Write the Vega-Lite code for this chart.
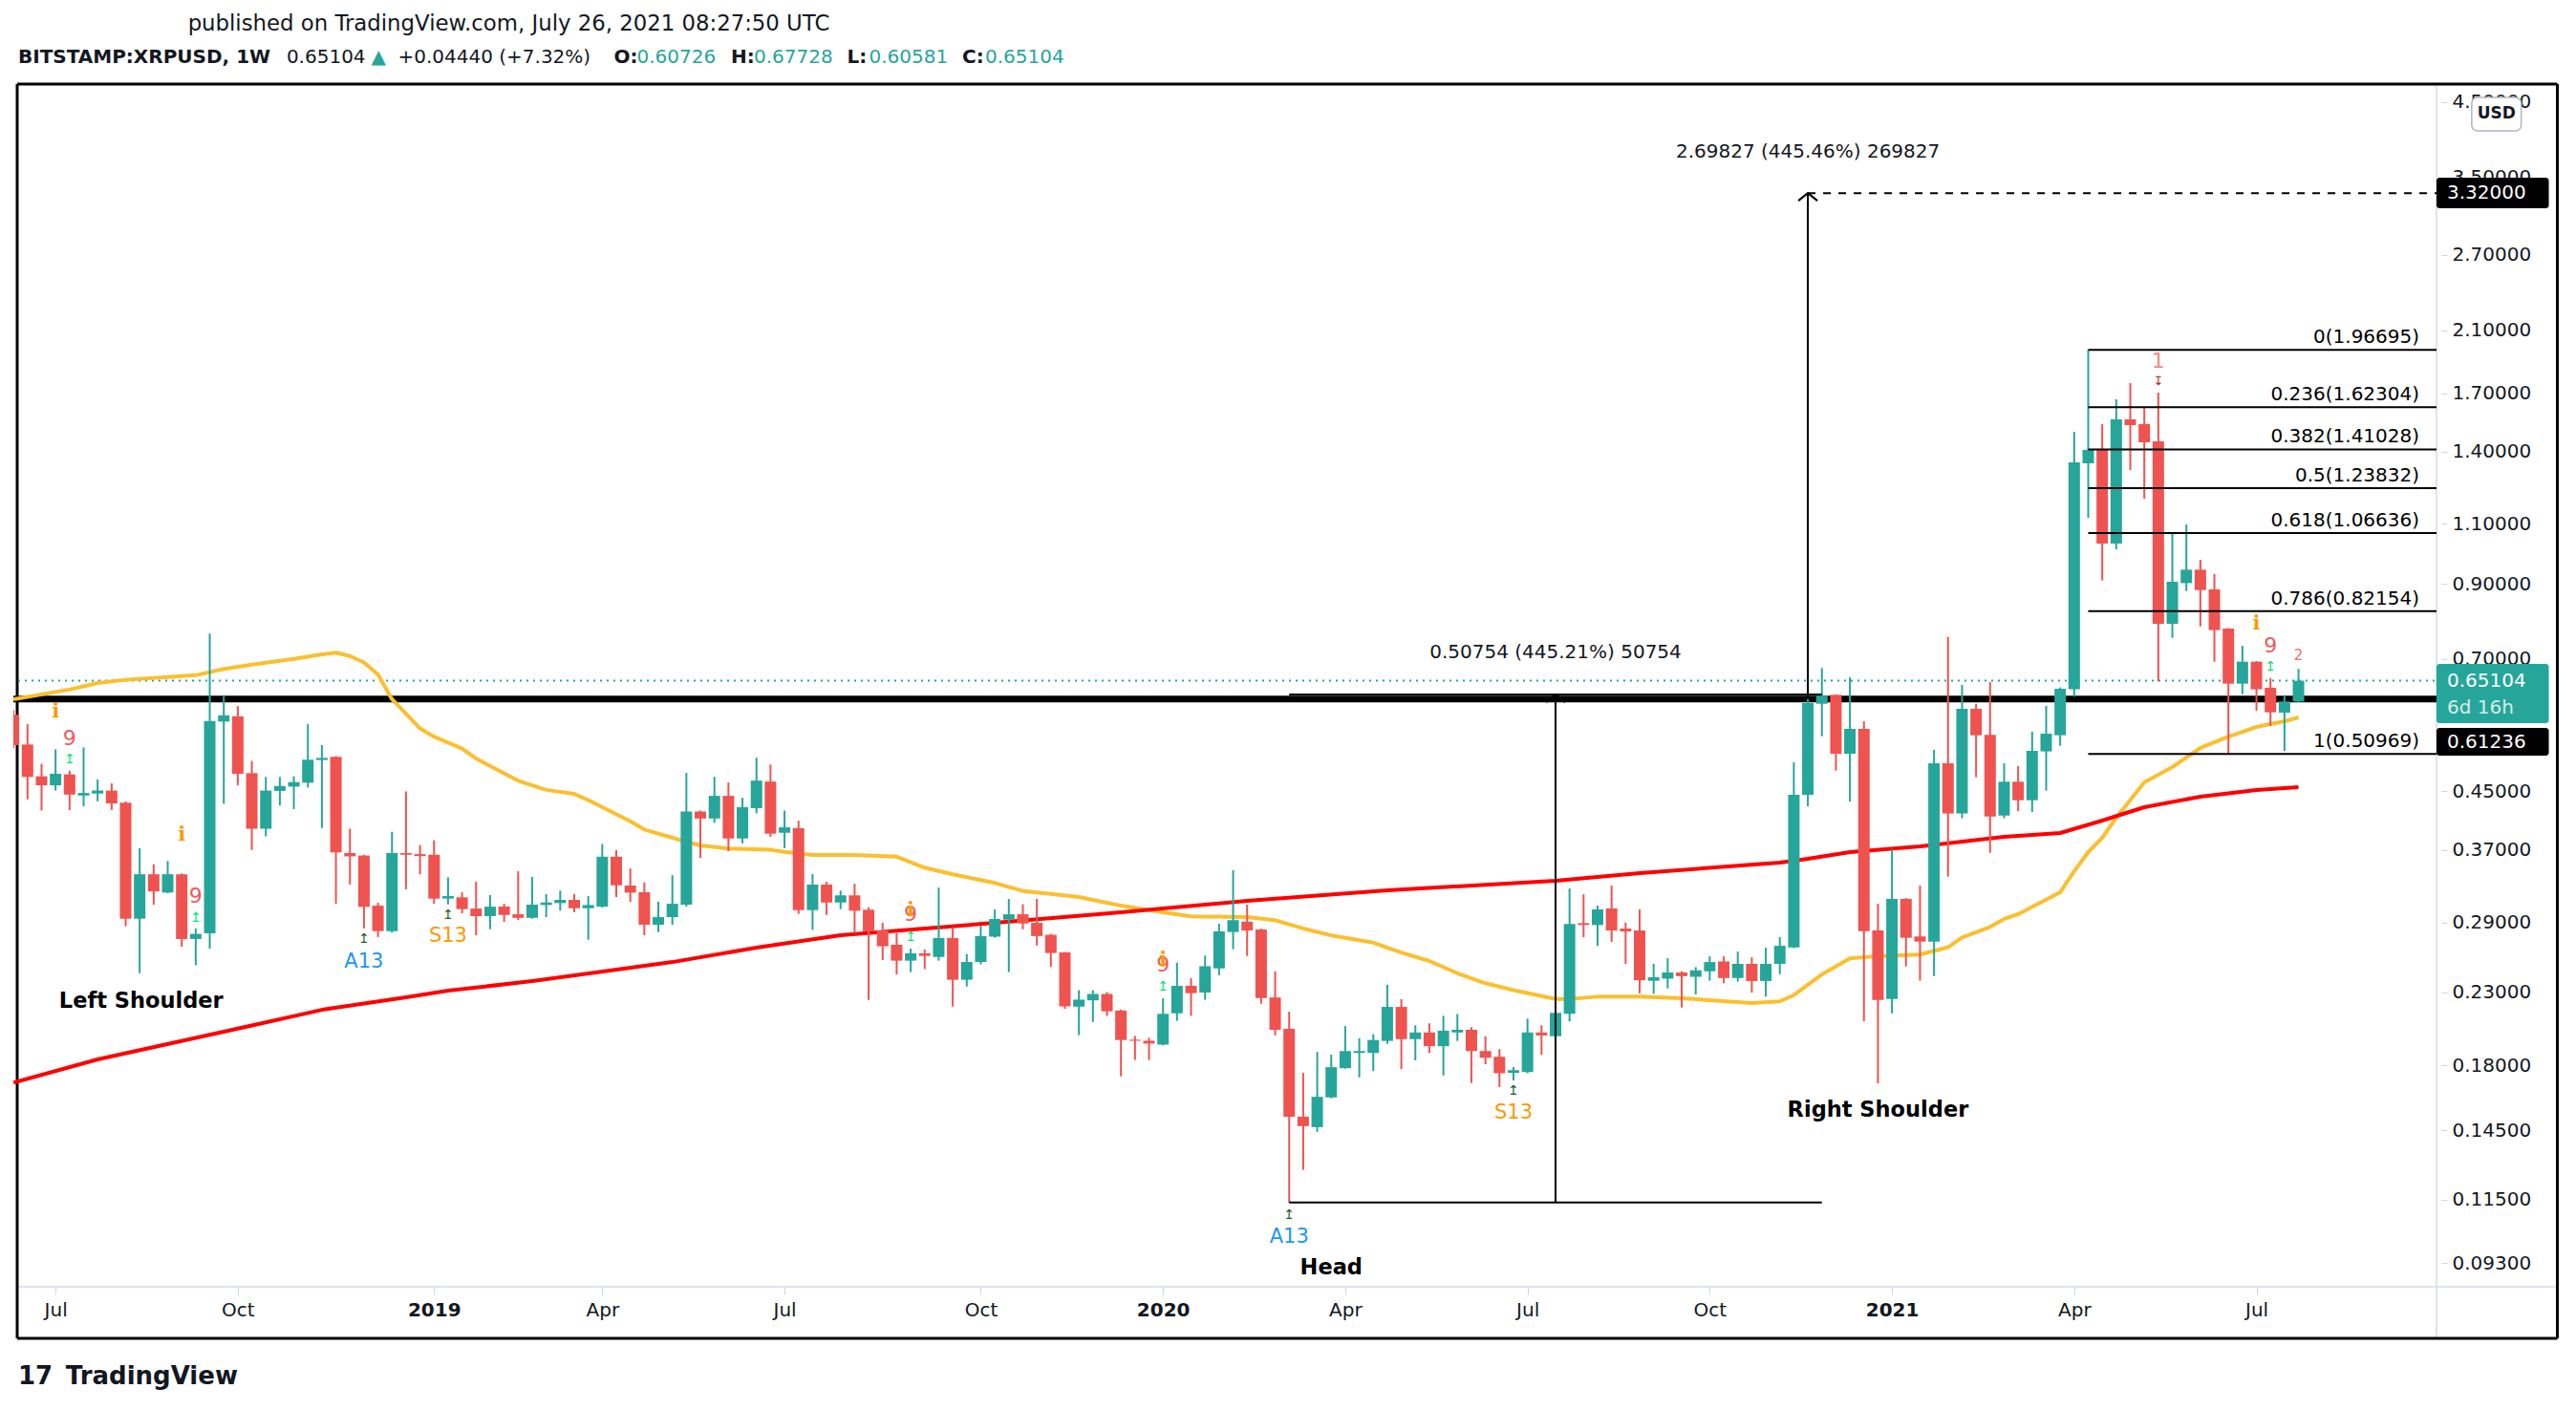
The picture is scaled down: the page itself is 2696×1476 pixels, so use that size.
{
"$schema":"https://vega.github.io/schema/vega-lite/v6.json",
"width":2541,"height":1259,
"autosize":{"type":"none"},
"padding":{"left":14,"top":88,"right":141,"bottom":129},
"background":"#ffffff",
"view":{"stroke":null},
"config":{"font":"DejaVu Sans"},
"datasets":{
"frame":[{"x0":1528834852000,"x1":1638425957000,"y0":4.779,"y1":4.779},{"x0":1528834852000,"x1":1638425957000,"y0":0.07232,"y1":0.07232},{"x0":1528834852000,"x1":1528834852000,"y0":4.779,"y1":0.07232},{"x0":1638425957000,"x1":1638425957000,"y0":4.779,"y1":0.07232}],
"sep":[{"x0":1633211243000,"x1":1633211243000,"y0":4.779,"y1":0.07232},{"x0":1528875913000,"x1":1638425957000,"y0":0.08594,"y1":0.08594}],
"support":[{"p":0.61236}],
"last":[{"p":0.65104}],
"ma50":[{"d":"2018-06-11","v":0.612},{"d":"2018-07-09","v":0.632},{"d":"2018-07-23","v":0.646},{"d":"2018-08-06","v":0.653},{"d":"2018-08-27","v":0.659},{"d":"2018-09-10","v":0.663},{"d":"2018-09-24","v":0.677},{"d":"2018-10-08","v":0.687},{"d":"2018-10-29","v":0.7},{"d":"2018-11-12","v":0.711},{"d":"2018-11-19","v":0.715},{"d":"2018-11-26","v":0.707},{"d":"2018-12-03","v":0.692},{"d":"2018-12-10","v":0.665},{"d":"2018-12-17","v":0.612},{"d":"2018-12-24","v":0.583},{"d":"2018-12-31","v":0.555},{"d":"2019-01-07","v":0.54},{"d":"2019-01-21","v":0.519},{"d":"2019-01-28","v":0.502},{"d":"2019-02-18","v":0.466},{"d":"2019-03-04","v":0.452},{"d":"2019-03-18","v":0.446},{"d":"2019-03-25","v":0.437},{"d":"2019-04-15","v":0.407},{"d":"2019-04-22","v":0.396},{"d":"2019-05-13","v":0.38},{"d":"2019-05-20","v":0.3755},{"d":"2019-06-03","v":0.3715},{"d":"2019-06-24","v":0.37},{"d":"2019-07-01","v":0.3675},{"d":"2019-07-15","v":0.3636},{"d":"2019-08-05","v":0.3636},{"d":"2019-08-26","v":0.3616},{"d":"2019-09-09","v":0.3486},{"d":"2019-09-23","v":0.341},{"d":"2019-10-14","v":0.3312},{"d":"2019-10-28","v":0.3225},{"d":"2019-11-11","v":0.3194},{"d":"2019-11-25","v":0.316},{"d":"2019-12-09","v":0.31},{"d":"2019-12-16","v":0.307},{"d":"2020-01-06","v":0.3003},{"d":"2020-01-20","v":0.2962},{"d":"2020-02-17","v":0.2955},{"d":"2020-03-02","v":0.2924},{"d":"2020-03-16","v":0.2845},{"d":"2020-03-30","v":0.278},{"d":"2020-04-20","v":0.2713},{"d":"2020-05-04","v":0.2625},{"d":"2020-05-18","v":0.2552},{"d":"2020-06-01","v":0.245},{"d":"2020-06-15","v":0.2369},{"d":"2020-06-29","v":0.2315},{"d":"2020-07-20","v":0.2248},{"d":"2020-07-27","v":0.2248},{"d":"2020-08-10","v":0.2265},{"d":"2020-08-31","v":0.2265},{"d":"2020-09-21","v":0.2253},{"d":"2020-10-26","v":0.2218},{"d":"2020-11-09","v":0.223},{"d":"2020-11-16","v":0.2277},{"d":"2020-11-30","v":0.244},{"d":"2020-12-14","v":0.2575},{"d":"2020-12-28","v":0.2594},{"d":"2021-01-18","v":0.2608},{"d":"2021-02-01","v":0.2672},{"d":"2021-02-08","v":0.276},{"d":"2021-02-22","v":0.286},{"d":"2021-03-01","v":0.2937},{"d":"2021-03-08","v":0.2984},{"d":"2021-03-29","v":0.3211},{"d":"2021-04-05","v":0.3445},{"d":"2021-04-12","v":0.3672},{"d":"2021-04-19","v":0.3852},{"d":"2021-04-26","v":0.412},{"d":"2021-05-10","v":0.4635},{"d":"2021-05-24","v":0.4878},{"d":"2021-06-07","v":0.52},{"d":"2021-06-21","v":0.54},{"d":"2021-07-05","v":0.5578},{"d":"2021-07-19","v":0.5686},{"d":"2021-07-26","v":0.5759}],
"ma200":[{"d":"2018-06-11","v":0.17},{"d":"2018-07-23","v":0.1837},{"d":"2018-09-24","v":0.2015},{"d":"2018-11-12","v":0.2168},{"d":"2018-12-24","v":0.226},{"d":"2019-01-14","v":0.2311},{"d":"2019-02-25","v":0.2386},{"d":"2019-05-06","v":0.2543},{"d":"2019-06-17","v":0.2668},{"d":"2019-07-29","v":0.2781},{"d":"2019-10-14","v":0.2899},{"d":"2019-12-16","v":0.3003},{"d":"2020-02-17","v":0.312},{"d":"2020-04-27","v":0.3232},{"d":"2020-07-20","v":0.3336},{"d":"2020-08-31","v":0.3423},{"d":"2020-11-09","v":0.3545},{"d":"2020-11-23","v":0.359},{"d":"2020-12-14","v":0.3672},{"d":"2021-01-18","v":0.3743},{"d":"2021-03-01","v":0.3864},{"d":"2021-03-29","v":0.3914},{"d":"2021-04-19","v":0.408},{"d":"2021-05-10","v":0.4266},{"d":"2021-06-07","v":0.4419},{"d":"2021-07-05","v":0.4518},{"d":"2021-07-26","v":0.4562}],
"candles":[
{"d":"2018-06-11","o":0.581,"h":0.59,"l":0.52,"c":0.525},
{"d":"2018-06-18","o":0.526,"h":0.563,"l":0.438,"c":0.472},
{"d":"2018-06-25","o":0.473,"h":0.493,"l":0.422,"c":0.459},
{"d":"2018-07-02","o":0.459,"h":0.5175,"l":0.451,"c":0.477},
{"d":"2018-07-09","o":0.476,"h":0.482,"l":0.4225,"c":0.445},
{"d":"2018-07-16","o":0.4436,"h":0.521,"l":0.428,"c":0.4474},
{"d":"2018-07-23","o":0.4465,"h":0.468,"l":0.435,"c":0.4512},
{"d":"2018-07-30","o":0.451,"h":0.462,"l":0.4225,"c":0.432},
{"d":"2018-08-06","o":0.433,"h":0.435,"l":0.2866,"c":0.294},
{"d":"2018-08-13","o":0.294,"h":0.372,"l":0.245,"c":0.341},
{"d":"2018-08-20","o":0.341,"h":0.3526,"l":0.308,"c":0.322},
{"d":"2018-08-27","o":0.3208,"h":0.3564,"l":0.32,"c":0.341},
{"d":"2018-09-03","o":0.341,"h":0.342,"l":0.2676,"c":0.2747},
{"d":"2018-09-10","o":0.2747,"h":0.2845,"l":0.2517,"c":0.2794},
{"d":"2018-09-17","o":0.28,"h":0.762,"l":0.266,"c":0.569},
{"d":"2018-09-24","o":0.568,"h":0.619,"l":0.4316,"c":0.58},
{"d":"2018-10-01","o":0.578,"h":0.598,"l":0.459,"c":0.477},
{"d":"2018-10-08","o":0.478,"h":0.498,"l":0.3698,"c":0.397},
{"d":"2018-10-15","o":0.397,"h":0.472,"l":0.387,"c":0.451},
{"d":"2018-10-22","o":0.4505,"h":0.472,"l":0.429,"c":0.458},
{"d":"2018-10-29","o":0.457,"h":0.473,"l":0.424,"c":0.464},
{"d":"2018-11-05","o":0.463,"h":0.563,"l":0.4555,"c":0.5},
{"d":"2018-11-12","o":0.4995,"h":0.525,"l":0.398,"c":0.503},
{"d":"2018-11-19","o":0.505,"h":0.506,"l":0.309,"c":0.367},
{"d":"2018-11-26","o":0.366,"h":0.397,"l":0.3295,"c":0.362},
{"d":"2018-12-03","o":0.363,"h":0.3638,"l":0.2845,"c":0.3058},
{"d":"2018-12-10","o":0.307,"h":0.31,"l":0.2765,"c":0.282},
{"d":"2018-12-17","o":0.282,"h":0.393,"l":0.2806,"c":0.366},
{"d":"2018-12-24","o":0.366,"h":0.4497,"l":0.3243,"c":0.364},
{"d":"2018-12-31","o":0.3647,"h":0.376,"l":0.341,"c":0.3623},
{"d":"2019-01-07","o":0.364,"h":0.382,"l":0.309,"c":0.3143},
{"d":"2019-01-14","o":0.3144,"h":0.3375,"l":0.3084,"c":0.317},
{"d":"2019-01-21","o":0.3157,"h":0.3211,"l":0.2993,"c":0.3035},
{"d":"2019-01-28","o":0.3041,"h":0.3325,"l":0.2781,"c":0.2965},
{"d":"2019-02-04","o":0.2965,"h":0.318,"l":0.2838,"c":0.306},
{"d":"2019-02-11","o":0.306,"h":0.309,"l":0.2908,"c":0.2977},
{"d":"2019-02-18","o":0.2983,"h":0.3444,"l":0.2925,"c":0.2948},
{"d":"2019-02-25","o":0.2948,"h":0.3379,"l":0.2939,"c":0.3081},
{"d":"2019-03-04","o":0.3077,"h":0.3191,"l":0.2955,"c":0.3103},
{"d":"2019-03-11","o":0.3097,"h":0.323,"l":0.3019,"c":0.313},
{"d":"2019-03-18","o":0.313,"h":0.3191,"l":0.3003,"c":0.3044},
{"d":"2019-03-25","o":0.3044,"h":0.317,"l":0.274,"c":0.3077},
{"d":"2019-04-01","o":0.306,"h":0.3772,"l":0.3051,"c":0.3616},
{"d":"2019-04-08","o":0.3616,"h":0.3695,"l":0.316,"c":0.3287},
{"d":"2019-04-15","o":0.3284,"h":0.3477,"l":0.311,"c":0.3207},
{"d":"2019-04-22","o":0.3211,"h":0.3318,"l":0.2781,"c":0.2881},
{"d":"2019-04-29","o":0.2881,"h":0.311,"l":0.2811,"c":0.2955},
{"d":"2019-05-06","o":0.2955,"h":0.3399,"l":0.2881,"c":0.309},
{"d":"2019-05-13","o":0.3081,"h":0.4785,"l":0.306,"c":0.4205},
{"d":"2019-05-20","o":0.4205,"h":0.422,"l":0.36,"c":0.4108},
{"d":"2019-05-27","o":0.4108,"h":0.4724,"l":0.4049,"c":0.4431},
{"d":"2019-06-03","o":0.4431,"h":0.4634,"l":0.3683,"c":0.3843},
{"d":"2019-06-10","o":0.3843,"h":0.4403,"l":0.3781,"c":0.4266},
{"d":"2019-06-17","o":0.4252,"h":0.5033,"l":0.418,"c":0.4663},
{"d":"2019-06-24","o":0.4648,"h":0.4921,"l":0.3864,"c":0.3905},
{"d":"2019-07-01","o":0.3917,"h":0.4219,"l":0.3721,"c":0.3989},
{"d":"2019-07-08","o":0.3977,"h":0.4078,"l":0.2987,"c":0.3025},
{"d":"2019-07-15","o":0.3025,"h":0.3412,"l":0.2832,"c":0.3294},
{"d":"2019-07-22","o":0.3294,"h":0.3325,"l":0.2977,"c":0.3103},
{"d":"2019-07-29","o":0.3103,"h":0.3229,"l":0.3035,"c":0.3178},
{"d":"2019-08-05","o":0.3178,"h":0.3304,"l":0.2803,"c":0.3019},
{"d":"2019-08-12","o":0.3029,"h":0.3054,"l":0.2241,"c":0.2818},
{"d":"2019-08-19","o":0.2827,"h":0.2899,"l":0.256,"c":0.2681},
{"d":"2019-08-26","o":0.2694,"h":0.2803,"l":0.244,"c":0.2555},
{"d":"2019-09-02","o":0.2555,"h":0.266,"l":0.2459,"c":0.2618},
{"d":"2019-09-09","o":0.2618,"h":0.2651,"l":0.2484,"c":0.2596},
{"d":"2019-09-16","o":0.2587,"h":0.3262,"l":0.2555,"c":0.2756},
{"d":"2019-09-23","o":0.2756,"h":0.2856,"l":0.2191,"c":0.2397},
{"d":"2019-09-30","o":0.2397,"h":0.2612,"l":0.2344,"c":0.2544},
{"d":"2019-10-07","o":0.2544,"h":0.2871,"l":0.2523,"c":0.2774},
{"d":"2019-10-14","o":0.2768,"h":0.3031,"l":0.2759,"c":0.2937},
{"d":"2019-10-21","o":0.293,"h":0.314,"l":0.2459,"c":0.2983},
{"d":"2019-10-28","o":0.2983,"h":0.3085,"l":0.2838,"c":0.2893},
{"d":"2019-11-04","o":0.2899,"h":0.314,"l":0.2687,"c":0.2774},
{"d":"2019-11-11","o":0.2785,"h":0.2794,"l":0.2502,"c":0.2621},
{"d":"2019-11-18","o":0.2627,"h":0.263,"l":0.2175,"c":0.2193},
{"d":"2019-11-25","o":0.2191,"h":0.2315,"l":0.1992,"c":0.2243},
{"d":"2019-12-02","o":0.2238,"h":0.2315,"l":0.2082,"c":0.2286},
{"d":"2019-12-09","o":0.2286,"h":0.23,"l":0.2125,"c":0.2157},
{"d":"2019-12-16","o":0.2163,"h":0.217,"l":0.1736,"c":0.196},
{"d":"2019-12-23","o":0.1962,"h":0.1987,"l":0.1834,"c":0.1955},
{"d":"2019-12-30","o":0.1955,"h":0.1975,"l":0.1834,"c":0.1937},
{"d":"2020-01-06","o":0.193,"h":0.2253,"l":0.1925,"c":0.2139},
{"d":"2020-01-13","o":0.2143,"h":0.2538,"l":0.2089,"c":0.2349},
{"d":"2020-01-20","o":0.2349,"h":0.2409,"l":0.2125,"c":0.2292},
{"d":"2020-01-27","o":0.2297,"h":0.2599,"l":0.2241,"c":0.2508},
{"d":"2020-02-03","o":0.249,"h":0.289,"l":0.2434,"c":0.2818},
{"d":"2020-02-10","o":0.2812,"h":0.3456,"l":0.2654,"c":0.2925},
{"d":"2020-02-17","o":0.291,"h":0.3081,"l":0.2595,"c":0.2826},
{"d":"2020-02-24","o":0.2835,"h":0.2844,"l":0.2212,"c":0.2255},
{"d":"2020-03-02","o":0.2259,"h":0.2464,"l":0.199,"c":0.2028},
{"d":"2020-03-09","o":0.2034,"h":0.2154,"l":0.1138,"c":0.1517},
{"d":"2020-03-16","o":0.1517,"h":0.1756,"l":0.127,"c":0.147},
{"d":"2020-03-23","o":0.1465,"h":0.1883,"l":0.1442,"c":0.1621},
{"d":"2020-03-30","o":0.1618,"h":0.1866,"l":0.1613,"c":0.179},
{"d":"2020-04-06","o":0.1784,"h":0.2053,"l":0.1781,"c":0.1889},
{"d":"2020-04-13","o":0.1877,"h":0.1972,"l":0.173,"c":0.1889},
{"d":"2020-04-20","o":0.1877,"h":0.1998,"l":0.1768,"c":0.196},
{"d":"2020-04-27","o":0.1954,"h":0.2357,"l":0.1935,"c":0.2189},
{"d":"2020-05-04","o":0.2189,"h":0.2246,"l":0.1778,"c":0.1966},
{"d":"2020-05-11","o":0.1966,"h":0.2059,"l":0.1831,"c":0.201},
{"d":"2020-05-18","o":0.201,"h":0.2072,"l":0.1877,"c":0.192},
{"d":"2020-05-25","o":0.192,"h":0.2125,"l":0.1741,"c":0.2022},
{"d":"2020-06-01","o":0.201,"h":0.2138,"l":0.1954,"c":0.2028},
{"d":"2020-06-08","o":0.2028,"h":0.2046,"l":0.1698,"c":0.1889},
{"d":"2020-06-15","o":0.1889,"h":0.1985,"l":0.1807,"c":0.1847},
{"d":"2020-06-22","o":0.1853,"h":0.1901,"l":0.1675,"c":0.1754},
{"d":"2020-06-29","o":0.1756,"h":0.179,"l":0.1713,"c":0.1772},
{"d":"2020-07-06","o":0.1761,"h":0.2105,"l":0.1754,"c":0.201},
{"d":"2020-07-13","o":0.201,"h":0.2059,"l":0.1866,"c":0.199},
{"d":"2020-07-20","o":0.1985,"h":0.2246,"l":0.1907,"c":0.2146},
{"d":"2020-07-27","o":0.214,"h":0.3252,"l":0.2086,"c":0.2887},
{"d":"2020-08-03","o":0.2896,"h":0.3189,"l":0.2763,"c":0.2878},
{"d":"2020-08-10","o":0.2878,"h":0.3071,"l":0.2684,"c":0.3032},
{"d":"2020-08-17","o":0.3042,"h":0.3283,"l":0.272,"c":0.2826},
{"d":"2020-08-24","o":0.2844,"h":0.2901,"l":0.2528,"c":0.2817},
{"d":"2020-08-31","o":0.2826,"h":0.3032,"l":0.2291,"c":0.2393},
{"d":"2020-09-07","o":0.2389,"h":0.2528,"l":0.2288,"c":0.2417},
{"d":"2020-09-14","o":0.2406,"h":0.2576,"l":0.2328,"c":0.2456},
{"d":"2020-09-21","o":0.2456,"h":0.2466,"l":0.2185,"c":0.2426},
{"d":"2020-09-28","o":0.2421,"h":0.25,"l":0.2282,"c":0.2474},
{"d":"2020-10-05","o":0.2466,"h":0.2592,"l":0.2389,"c":0.2543},
{"d":"2020-10-12","o":0.2548,"h":0.2592,"l":0.2369,"c":0.2411},
{"d":"2020-10-19","o":0.2411,"h":0.2633,"l":0.2382,"c":0.2528},
{"d":"2020-10-26","o":0.2528,"h":0.2584,"l":0.2296,"c":0.2387},
{"d":"2020-11-02","o":0.2387,"h":0.2668,"l":0.2266,"c":0.2528},
{"d":"2020-11-09","o":0.2528,"h":0.2764,"l":0.2442,"c":0.2685},
{"d":"2020-11-16","o":0.2671,"h":0.4956,"l":0.2664,"c":0.4447},
{"d":"2020-11-23","o":0.4447,"h":0.7865,"l":0.428,"c":0.6041},
{"d":"2020-11-30","o":0.6028,"h":0.6791,"l":0.5408,"c":0.6191},
{"d":"2020-12-07","o":0.621,"h":0.622,"l":0.4821,"c":0.5101},
{"d":"2020-12-14","o":0.5101,"h":0.6585,"l":0.4348,"c":0.5542},
{"d":"2020-12-21","o":0.5542,"h":0.5686,"l":0.2087,"c":0.282},
{"d":"2020-12-28","o":0.2826,"h":0.3091,"l":0.1696,"c":0.2241},
{"d":"2021-01-04","o":0.2248,"h":0.3707,"l":0.2143,"c":0.314},
{"d":"2021-01-11","o":0.314,"h":0.315,"l":0.2506,"c":0.2758},
{"d":"2021-01-18","o":0.277,"h":0.3284,"l":0.2389,"c":0.2723},
{"d":"2021-01-25","o":0.2723,"h":0.5166,"l":0.2427,"c":0.4941},
{"d":"2021-02-01","o":0.4941,"h":0.7537,"l":0.3383,"c":0.4177},
{"d":"2021-02-08","o":0.4177,"h":0.6419,"l":0.4112,"c":0.5926},
{"d":"2021-02-15","o":0.5926,"h":0.6028,"l":0.4715,"c":0.5426},
{"d":"2021-02-22","o":0.5434,"h":0.648,"l":0.3664,"c":0.4136},
{"d":"2021-03-01","o":0.4149,"h":0.4941,"l":0.4112,"c":0.4645},
{"d":"2021-03-08","o":0.4645,"h":0.4894,"l":0.4212,"c":0.4367},
{"d":"2021-03-15","o":0.4367,"h":0.549,"l":0.4199,"c":0.515},
{"d":"2021-03-22","o":0.5141,"h":0.5984,"l":0.4509,"c":0.5454},
{"d":"2021-03-29","o":0.5426,"h":0.6366,"l":0.5239,"c":0.6337},
{"d":"2021-04-05","o":0.6325,"h":1.4957,"l":0.6171,"c":1.3503},
{"d":"2021-04-12","o":1.346,"h":1.96695,"l":1.1222,"c":1.4077},
{"d":"2021-04-19","o":1.4077,"h":1.5342,"l":0.9101,"c":1.0296},
{"d":"2021-04-26","o":1.0296,"h":1.667,"l":1.0099,"c":1.5591},
{"d":"2021-05-03","o":1.5591,"h":1.7601,"l":1.3163,"c":1.5293},
{"d":"2021-05-10","o":1.5342,"h":1.6251,"l":1.1961,"c":1.444},
{"d":"2021-05-17","o":1.4485,"h":1.7049,"l":0.6494,"c":0.7874},
{"d":"2021-05-24","o":0.7874,"h":1.0698,"l":0.7514,"c":0.9062},
{"d":"2021-05-31","o":0.902,"h":1.0974,"l":0.8786,"c":0.9434},
{"d":"2021-06-07","o":0.9434,"h":0.9751,"l":0.7807,"c":0.8814},
{"d":"2021-06-14","o":0.8833,"h":0.9295,"l":0.6937,"c":0.7709},
{"d":"2021-06-21","o":0.7749,"h":0.776,"l":0.50969,"c":0.6447},
{"d":"2021-06-28","o":0.6447,"h":0.7315,"l":0.6225,"c":0.6937},
{"d":"2021-07-05","o":0.6937,"h":0.695,"l":0.5889,"c":0.6325},
{"d":"2021-07-12","o":0.6359,"h":0.6565,"l":0.5596,"c":0.5858},
{"d":"2021-07-19","o":0.585,"h":0.6191,"l":0.515,"c":0.6073},
{"d":"2021-07-26","o":0.60726,"h":0.67728,"l":0.60581,"c":0.65104}
],
"fib":[{"p":1.96695,"t":"0(1.96695)","d0":"2021-04-12","d1":1633211243000,"dl":1632472150000},{"p":1.62304,"t":"0.236(1.62304)","d0":"2021-04-12","d1":1633211243000,"dl":1632472150000},{"p":1.41028,"t":"0.382(1.41028)","d0":"2021-04-12","d1":1633211243000,"dl":1632472150000},{"p":1.23832,"t":"0.5(1.23832)","d0":"2021-04-12","d1":1633211243000,"dl":1632472150000},{"p":1.06636,"t":"0.618(1.06636)","d0":"2021-04-12","d1":1633211243000,"dl":1632472150000},{"p":0.82154,"t":"0.786(0.82154)","d0":"2021-04-12","d1":1633211243000,"dl":1632472150000},{"p":0.50969,"t":"1(0.50969)","d0":"2021-04-12","d1":1633211243000,"dl":1632472150000}],
"segs":[{"d0":"2020-07-20","d1":"2020-07-20","p0":0.1139,"p1":0.6215},{"d0":"2020-03-09","d1":"2020-11-30","p0":0.1139,"p1":0.1139},{"d0":"2020-03-09","d1":"2020-11-30","p0":0.6215,"p1":0.6215},{"d0":"2020-11-23","d1":"2020-11-23","p0":0.6124,"p1":3.32}],
"dash":[{"d0":"2020-11-23","d1":1633211243000,"p":3.32}],
"chev":[{"d":"2020-07-20","p":0.6215},{"d":"2020-11-23","p":3.32}],
"meas":[{"d":"2020-07-20","p":0.7155,"t":"0.50754 (445.21%) 50754"},{"d":"2020-11-23","p":3.816,"t":"2.69827 (445.46%) 269827"}],
"td":[
{"d":"2018-07-09","p":0.5363,"t":"9","k":"nine"},{"d":"2018-09-10","p":0.3173,"t":"9","k":"nine"},{"d":"2019-09-02","p":0.2987,"t":"9","k":"nine"},{"d":"2020-01-06","p":0.2519,"t":"9","k":"nine"},{"d":"2021-07-12","p":0.7316,"t":"9","k":"nine"},
{"d":"2018-07-02","p":0.587,"t":"i","k":"info"},{"d":"2018-09-03","p":0.3885,"t":"i","k":"info"},{"d":"2019-09-02","p":0.302,"t":"i","k":"info"},{"d":"2020-01-06","p":0.256,"t":"i","k":"info"},{"d":"2021-07-05","p":0.7881,"t":"i","k":"info"},
{"d":"2018-07-09","p":0.4999,"t":"↥","k":"up"},{"d":"2018-09-10","p":0.2949,"t":"↥","k":"up"},{"d":"2019-09-02","p":0.2764,"t":"↥","k":"up"},{"d":"2020-01-06","p":0.2339,"t":"↥","k":"up"},{"d":"2021-07-12","p":0.6813,"t":"↥","k":"up"},
{"d":"2018-12-03","p":0.2744,"t":"↥","k":"dark"},{"d":"2019-01-14","p":0.2972,"t":"↥","k":"dark"},{"d":"2020-03-09","p":0.1093,"t":"↥","k":"dark"},{"d":"2020-06-29","p":0.1652,"t":"↥","k":"dark"},
{"d":"2018-12-03","p":0.2546,"t":"A13","k":"a13"},{"d":"2020-03-09","p":0.1015,"t":"A13","k":"a13"},
{"d":"2019-01-14","p":0.2772,"t":"S13","k":"s13"},{"d":"2020-06-29","p":0.1536,"t":"S13","k":"s13"},
{"d":"2021-05-17","p":1.892,"t":"1","k":"one"},{"d":"2021-05-17","p":1.7695,"t":"↧","k":"down"},{"d":"2021-07-26","p":0.7094,"t":"2","k":"two"}
],
"pat":[{"d":1534185066000,"p":0.223,"t":"Left Shoulder"},{"d":"2020-03-30","p":0.0917,"t":"Head"},{"d":"2020-12-28","p":0.1549,"t":"Right Shoulder"}],
"boxes":[{"x0":1633211243000,"x1":1638056410000,"y0":3.4956,"y1":3.1562,"k":"black"},{"x0":1633211243000,"x1":1638056410000,"y0":0.6886,"y1":0.565,"k":"teal"},{"x0":1633211243000,"x1":1638056410000,"y0":0.556,"y1":0.5069,"k":"black"}],
"boxtext":[{"d":1633662911000,"p":3.32,"t":"3.32000"},{"d":1633662911000,"p":0.65104,"t":"0.65104"},{"d":1633662911000,"p":0.5946,"t":"6d 16h"},{"d":1633662911000,"p":0.5308,"t":"0.61236"}],
"usd":[{"x0":1634730490000,"x1":1636865649000,"y0":4.57,"y1":4.087,"d":1635798070000,"p":4.322,"t":"USD"}],
"hdr":[
{"d":1550042722000,"p":5.844,"t":"published on TradingView.com, July 26, 2021 08:27:50 UTC","k":"title"},
{"d":1528875913000,"p":5.226,"t":"BITSTAMP:XRPUSD, 1W","k":"bold"},
{"d":1540455041000,"p":5.226,"t":"0.65104","k":"norm"},
{"d":1544109446000,"p":5.226,"t":"▲","k":"teal"},
{"d":1545259147000,"p":5.226,"t":"+0.04440 (+7.32%)","k":"norm"},
{"d":1554579934000,"p":5.226,"t":"O:","k":"bold"},
{"d":1555565391000,"p":5.226,"t":"0.60726","k":"teal"},
{"d":1559630404000,"p":5.226,"t":"H:","k":"bold"},
{"d":1560615862000,"p":5.226,"t":"0.67728","k":"teal"},
{"d":1564639814000,"p":5.226,"t":"L:","k":"bold"},
{"d":1565584211000,"p":5.226,"t":"0.60581","k":"teal"},
{"d":1569608163000,"p":5.226,"t":"C:","k":"bold"},
{"d":1570593621000,"p":5.226,"t":"0.65104","k":"teal"}
],
"logo":[{"d":1528875913000,"p":0.06366,"t":"17"},{"d":1530928950000,"p":0.06366,"t":"TradingView"}]
},
"layer":[
{"data":{"name":"sep"},"mark":{"type":"rule","color":"#e0e3eb","strokeWidth":2,"clip":false},
"encoding":{
"x":{"field":"x0","type":"temporal","title":null,"scale":{"type":"utc","domain":[1528875913000,1633211243000],"nice":false},
"axis":{"values":[{"year":2018,"month":7,"date":2,"utc":true},{"year":2018,"month":10,"date":1,"utc":true},{"year":2019,"month":1,"date":7,"utc":true},{"year":2019,"month":4,"date":1,"utc":true},{"year":2019,"month":7,"date":1,"utc":true},{"year":2019,"month":10,"date":7,"utc":true},{"year":2020,"month":1,"date":6,"utc":true},{"year":2020,"month":4,"date":6,"utc":true},{"year":2020,"month":7,"date":6,"utc":true},{"year":2020,"month":10,"date":5,"utc":true},{"year":2021,"month":1,"date":4,"utc":true},{"year":2021,"month":4,"date":5,"utc":true},{"year":2021,"month":7,"date":5,"utc":true}],
"labelExpr":"utcmonth(datum.value) == 0 ? utcFormat(datum.value, '%Y') : utcFormat(datum.value, '%b')",
"labelFontSize":20,"labelColor":"#131722","labelFont":"DejaVu Sans",
"labelFontWeight":{"condition":{"test":"utcmonth(datum.value) == 0","value":"bold"},"value":"normal"},
"tickColor":"#d1d4dc","tickSize":8,"tickWidth":1,"labelPadding":6,"domain":false,"grid":false,"title":null,"labelFlush":false,"labelOverlap":false,"labelBound":false}},
"x2":{"field":"x1"},
"y":{"field":"y0","type":"quantitative","title":null,"scale":{"type":"log","domain":[0.08594,4.779],"nice":false},
"axis":{"orient":"right","values":[0.093,0.115,0.145,0.18,0.23,0.29,0.37,0.45,0.7,0.9,1.1,1.4,1.7,2.1,2.7,3.5,4.5],"format":".5f","labelFontSize":20,"labelColor":"#131722","labelFont":"DejaVu Sans","tickColor":"#d1d4dc","tickSize":6,"tickWidth":1,"labelPadding":5,"domain":false,"grid":false,"title":null,"labelAlign":"left","labelBaseline":"middle","labelOverlap":false,"labelBound":false,"labelFlush":false}},
"y2":{"field":"y1"}}},
{"data":{"name":"frame"},"mark":{"type":"rule","color":"#000000","strokeWidth":3,"clip":false},
"encoding":{"x":{"field":"x0","type":"temporal","title":null,"scale":{"type":"utc","domain":[1528875913000,1633211243000],"nice":false}},"x2":{"field":"x1"},
"y":{"field":"y0","type":"quantitative","title":null,"scale":{"type":"log","domain":[0.08594,4.779],"nice":false}},"y2":{"field":"y1"}}},
{"data":{"name":"support"},"mark":{"type":"rule","color":"#000000","strokeWidth":7,"clip":true},
"encoding":{"y":{"field":"p","type":"quantitative","title":null,"scale":{"type":"log","domain":[0.08594,4.779],"nice":false}}}},
{"data":{"name":"last"},"mark":{"type":"rule","color":"#26a69a","strokeWidth":2,"strokeDash":[2,5],"clip":true},
"encoding":{"y":{"field":"p","type":"quantitative","title":null,"scale":{"type":"log","domain":[0.08594,4.779],"nice":false}}}},
{"data":{"name":"ma50"},"mark":{"type":"line","color":"#fbbf2f","strokeWidth":4,"clip":true,"strokeJoin":"round"},
"encoding":{"x":{"field":"d","type":"temporal","title":null,"scale":{"type":"utc","domain":[1528875913000,1633211243000],"nice":false}},
"y":{"field":"v","type":"quantitative","title":null,"scale":{"type":"log","domain":[0.08594,4.779],"nice":false}}}},
{"data":{"name":"ma200"},"mark":{"type":"line","color":"#ff0000","strokeWidth":4,"clip":true,"strokeJoin":"round"},
"encoding":{"x":{"field":"d","type":"temporal","title":null,"scale":{"type":"utc","domain":[1528875913000,1633211243000],"nice":false}},
"y":{"field":"v","type":"quantitative","title":null,"scale":{"type":"log","domain":[0.08594,4.779],"nice":false}}}},
{"data":{"name":"candles"},"mark":{"type":"rule","strokeWidth":2,"clip":true},
"encoding":{"x":{"field":"d","type":"temporal","title":null,"scale":{"type":"utc","domain":[1528875913000,1633211243000],"nice":false}},
"y":{"field":"l","type":"quantitative","title":null,"scale":{"type":"log","domain":[0.08594,4.779],"nice":false}},"y2":{"field":"h"},
"color":{"condition":{"test":"datum.c >= datum.o","value":"#26a69a"},"value":"#ef5350"}}},
{"data":{"name":"candles"},"mark":{"type":"bar","size":12,"clip":true},
"encoding":{"x":{"field":"d","type":"temporal","title":null,"scale":{"type":"utc","domain":[1528875913000,1633211243000],"nice":false}},
"y":{"field":"o","type":"quantitative","title":null,"scale":{"type":"log","domain":[0.08594,4.779],"nice":false}},"y2":{"field":"c"},
"color":{"condition":{"test":"datum.c >= datum.o","value":"#26a69a"},"value":"#ef5350"}}},
{"data":{"name":"fib"},"mark":{"type":"rule","color":"#000000","strokeWidth":2,"clip":true},
"encoding":{"x":{"field":"d0","type":"temporal","title":null,"scale":{"type":"utc","domain":[1528875913000,1633211243000],"nice":false}},"x2":{"field":"d1"},
"y":{"field":"p","type":"quantitative","title":null,"scale":{"type":"log","domain":[0.08594,4.779],"nice":false}}}},
{"data":{"name":"fib"},"mark":{"type":"text","fontSize":20,"color":"#000000","align":"right","baseline":"bottom","dy":-3},
"encoding":{"x":{"field":"dl","type":"temporal","title":null,"scale":{"type":"utc","domain":[1528875913000,1633211243000],"nice":false}},
"y":{"field":"p","type":"quantitative","title":null,"scale":{"type":"log","domain":[0.08594,4.779],"nice":false}},"text":{"field":"t"}}},
{"data":{"name":"segs"},"mark":{"type":"rule","color":"#000000","strokeWidth":2,"clip":true},
"encoding":{"x":{"field":"d0","type":"temporal","title":null,"scale":{"type":"utc","domain":[1528875913000,1633211243000],"nice":false}},"x2":{"field":"d1"},
"y":{"field":"p0","type":"quantitative","title":null,"scale":{"type":"log","domain":[0.08594,4.779],"nice":false}},"y2":{"field":"p1"}}},
{"data":{"name":"dash"},"mark":{"type":"rule","color":"#000000","strokeWidth":2,"strokeDash":[8,8],"clip":true},
"encoding":{"x":{"field":"d0","type":"temporal","title":null,"scale":{"type":"utc","domain":[1528875913000,1633211243000],"nice":false}},"x2":{"field":"d1"},
"y":{"field":"p","type":"quantitative","title":null,"scale":{"type":"log","domain":[0.08594,4.779],"nice":false}}}},
{"data":{"name":"chev"},"mark":{"type":"point","shape":"M-1,0.8L0,0L1,0.8","filled":false,"color":"#000000","strokeWidth":2,"size":400,"opacity":1},
"encoding":{"x":{"field":"d","type":"temporal","title":null,"scale":{"type":"utc","domain":[1528875913000,1633211243000],"nice":false}},
"y":{"field":"p","type":"quantitative","title":null,"scale":{"type":"log","domain":[0.08594,4.779],"nice":false}}}},
{"data":{"name":"meas"},"mark":{"type":"text","fontSize":20,"color":"#131722","align":"center","baseline":"middle"},
"encoding":{"x":{"field":"d","type":"temporal","title":null,"scale":{"type":"utc","domain":[1528875913000,1633211243000],"nice":false}},
"y":{"field":"p","type":"quantitative","title":null,"scale":{"type":"log","domain":[0.08594,4.779],"nice":false}},"text":{"field":"t"}}},
{"data":{"name":"td"},"transform":[{"filter":"datum.k == 'nine'"}],"mark":{"type":"text","fontSize":22,"color":"#f05a5a","align":"center","baseline":"middle"},
"encoding":{"x":{"field":"d","type":"temporal","title":null,"scale":{"type":"utc","domain":[1528875913000,1633211243000],"nice":false}},
"y":{"field":"p","type":"quantitative","title":null,"scale":{"type":"log","domain":[0.08594,4.779],"nice":false}},"text":{"field":"t"}}},
{"data":{"name":"td"},"transform":[{"filter":"datum.k == 'info'"}],"mark":{"type":"text","font":"DejaVu Serif","fontWeight":"bold","fontSize":21,"color":"#ff9800","align":"center","baseline":"middle"},
"encoding":{"x":{"field":"d","type":"temporal","title":null,"scale":{"type":"utc","domain":[1528875913000,1633211243000],"nice":false}},
"y":{"field":"p","type":"quantitative","title":null,"scale":{"type":"log","domain":[0.08594,4.779],"nice":false}},"text":{"field":"t"}}},
{"data":{"name":"td"},"transform":[{"filter":"datum.k == 'up'"}],"mark":{"type":"text","fontSize":14,"color":"#00e676","align":"center","baseline":"middle"},
"encoding":{"x":{"field":"d","type":"temporal","title":null,"scale":{"type":"utc","domain":[1528875913000,1633211243000],"nice":false}},
"y":{"field":"p","type":"quantitative","title":null,"scale":{"type":"log","domain":[0.08594,4.779],"nice":false}},"text":{"field":"t"}}},
{"data":{"name":"td"},"transform":[{"filter":"datum.k == 'dark'"}],"mark":{"type":"text","fontSize":14,"color":"#1b5e20","align":"center","baseline":"middle"},
"encoding":{"x":{"field":"d","type":"temporal","title":null,"scale":{"type":"utc","domain":[1528875913000,1633211243000],"nice":false}},
"y":{"field":"p","type":"quantitative","title":null,"scale":{"type":"log","domain":[0.08594,4.779],"nice":false}},"text":{"field":"t"}}},
{"data":{"name":"td"},"transform":[{"filter":"datum.k == 'a13'"}],"mark":{"type":"text","fontSize":21,"color":"#2196f3","align":"center","baseline":"middle"},
"encoding":{"x":{"field":"d","type":"temporal","title":null,"scale":{"type":"utc","domain":[1528875913000,1633211243000],"nice":false}},
"y":{"field":"p","type":"quantitative","title":null,"scale":{"type":"log","domain":[0.08594,4.779],"nice":false}},"text":{"field":"t"}}},
{"data":{"name":"td"},"transform":[{"filter":"datum.k == 's13'"}],"mark":{"type":"text","fontSize":21,"color":"#ff9800","align":"center","baseline":"middle"},
"encoding":{"x":{"field":"d","type":"temporal","title":null,"scale":{"type":"utc","domain":[1528875913000,1633211243000],"nice":false}},
"y":{"field":"p","type":"quantitative","title":null,"scale":{"type":"log","domain":[0.08594,4.779],"nice":false}},"text":{"field":"t"}}},
{"data":{"name":"td"},"transform":[{"filter":"datum.k == 'one'"}],"mark":{"type":"text","fontSize":22,"color":"#f28b82","align":"center","baseline":"middle"},
"encoding":{"x":{"field":"d","type":"temporal","title":null,"scale":{"type":"utc","domain":[1528875913000,1633211243000],"nice":false}},
"y":{"field":"p","type":"quantitative","title":null,"scale":{"type":"log","domain":[0.08594,4.779],"nice":false}},"text":{"field":"t"}}},
{"data":{"name":"td"},"transform":[{"filter":"datum.k == 'down'"}],"mark":{"type":"text","fontSize":13,"color":"#b71c1c","align":"center","baseline":"middle"},
"encoding":{"x":{"field":"d","type":"temporal","title":null,"scale":{"type":"utc","domain":[1528875913000,1633211243000],"nice":false}},
"y":{"field":"p","type":"quantitative","title":null,"scale":{"type":"log","domain":[0.08594,4.779],"nice":false}},"text":{"field":"t"}}},
{"data":{"name":"td"},"transform":[{"filter":"datum.k == 'two'"}],"mark":{"type":"text","fontSize":15,"color":"#f06b6b","align":"center","baseline":"middle"},
"encoding":{"x":{"field":"d","type":"temporal","title":null,"scale":{"type":"utc","domain":[1528875913000,1633211243000],"nice":false}},
"y":{"field":"p","type":"quantitative","title":null,"scale":{"type":"log","domain":[0.08594,4.779],"nice":false}},"text":{"field":"t"}}},
{"data":{"name":"pat"},"mark":{"type":"text","fontSize":22.5,"fontWeight":"bold","color":"#000000","align":"center","baseline":"middle"},
"encoding":{"x":{"field":"d","type":"temporal","title":null,"scale":{"type":"utc","domain":[1528875913000,1633211243000],"nice":false}},
"y":{"field":"p","type":"quantitative","title":null,"scale":{"type":"log","domain":[0.08594,4.779],"nice":false}},"text":{"field":"t"}}},
{"data":{"name":"boxes"},"mark":{"type":"rect","cornerRadius":3,"clip":false},
"encoding":{"x":{"field":"x0","type":"temporal","title":null,"scale":{"type":"utc","domain":[1528875913000,1633211243000],"nice":false}},"x2":{"field":"x1"},
"y":{"field":"y0","type":"quantitative","title":null,"scale":{"type":"log","domain":[0.08594,4.779],"nice":false}},"y2":{"field":"y1"},
"color":{"condition":{"test":"datum.k == 'teal'","value":"#26a69a"},"value":"#000000"}}},
{"data":{"name":"boxtext"},"mark":{"type":"text","fontSize":20,"color":"#ffffff","align":"left","baseline":"middle"},
"encoding":{"x":{"field":"d","type":"temporal","title":null,"scale":{"type":"utc","domain":[1528875913000,1633211243000],"nice":false}},
"y":{"field":"p","type":"quantitative","title":null,"scale":{"type":"log","domain":[0.08594,4.779],"nice":false}},"text":{"field":"t"},
"opacity":{"condition":{"test":"datum.t == '6d 16h'","value":0.8},"value":1}}},
{"data":{"name":"usd"},"mark":{"type":"rect","cornerRadius":6,"fill":"#ffffff","stroke":"#b2b5be","strokeWidth":1.5,"clip":false},
"encoding":{"x":{"field":"x0","type":"temporal","title":null,"scale":{"type":"utc","domain":[1528875913000,1633211243000],"nice":false}},"x2":{"field":"x1"},
"y":{"field":"y0","type":"quantitative","title":null,"scale":{"type":"log","domain":[0.08594,4.779],"nice":false}},"y2":{"field":"y1"}}},
{"data":{"name":"usd"},"mark":{"type":"text","fontSize":17,"fontWeight":"bold","color":"#131722","align":"center","baseline":"middle"},
"encoding":{"x":{"field":"d","type":"temporal","title":null,"scale":{"type":"utc","domain":[1528875913000,1633211243000],"nice":false}},
"y":{"field":"p","type":"quantitative","title":null,"scale":{"type":"log","domain":[0.08594,4.779],"nice":false}},"text":{"field":"t"}}},
{"data":{"name":"hdr"},"transform":[{"filter":"datum.k == 'title'"}],"mark":{"type":"text","fontSize":22.8,"color":"#131722","align":"center","baseline":"middle"},
"encoding":{"x":{"field":"d","type":"temporal","title":null,"scale":{"type":"utc","domain":[1528875913000,1633211243000],"nice":false}},
"y":{"field":"p","type":"quantitative","title":null,"scale":{"type":"log","domain":[0.08594,4.779],"nice":false}},"text":{"field":"t"}}},
{"data":{"name":"hdr"},"transform":[{"filter":"datum.k == 'bold'"}],"mark":{"type":"text","fontSize":20,"fontWeight":"bold","color":"#131722","align":"left","baseline":"middle"},
"encoding":{"x":{"field":"d","type":"temporal","title":null,"scale":{"type":"utc","domain":[1528875913000,1633211243000],"nice":false}},
"y":{"field":"p","type":"quantitative","title":null,"scale":{"type":"log","domain":[0.08594,4.779],"nice":false}},"text":{"field":"t"}}},
{"data":{"name":"hdr"},"transform":[{"filter":"datum.k == 'norm'"}],"mark":{"type":"text","fontSize":20,"color":"#131722","align":"left","baseline":"middle"},
"encoding":{"x":{"field":"d","type":"temporal","title":null,"scale":{"type":"utc","domain":[1528875913000,1633211243000],"nice":false}},
"y":{"field":"p","type":"quantitative","title":null,"scale":{"type":"log","domain":[0.08594,4.779],"nice":false}},"text":{"field":"t"}}},
{"data":{"name":"hdr"},"transform":[{"filter":"datum.k == 'teal'"}],"mark":{"type":"text","fontSize":20,"color":"#26a69a","align":"left","baseline":"middle"},
"encoding":{"x":{"field":"d","type":"temporal","title":null,"scale":{"type":"utc","domain":[1528875913000,1633211243000],"nice":false}},
"y":{"field":"p","type":"quantitative","title":null,"scale":{"type":"log","domain":[0.08594,4.779],"nice":false}},"text":{"field":"t"}}},
{"data":{"name":"logo"},"mark":{"type":"text","fontSize":26,"fontWeight":"bold","color":"#131722","align":"left","baseline":"middle"},
"encoding":{"x":{"field":"d","type":"temporal","title":null,"scale":{"type":"utc","domain":[1528875913000,1633211243000],"nice":false}},
"y":{"field":"p","type":"quantitative","title":null,"scale":{"type":"log","domain":[0.08594,4.779],"nice":false}},"text":{"field":"t"}}}
]
}
